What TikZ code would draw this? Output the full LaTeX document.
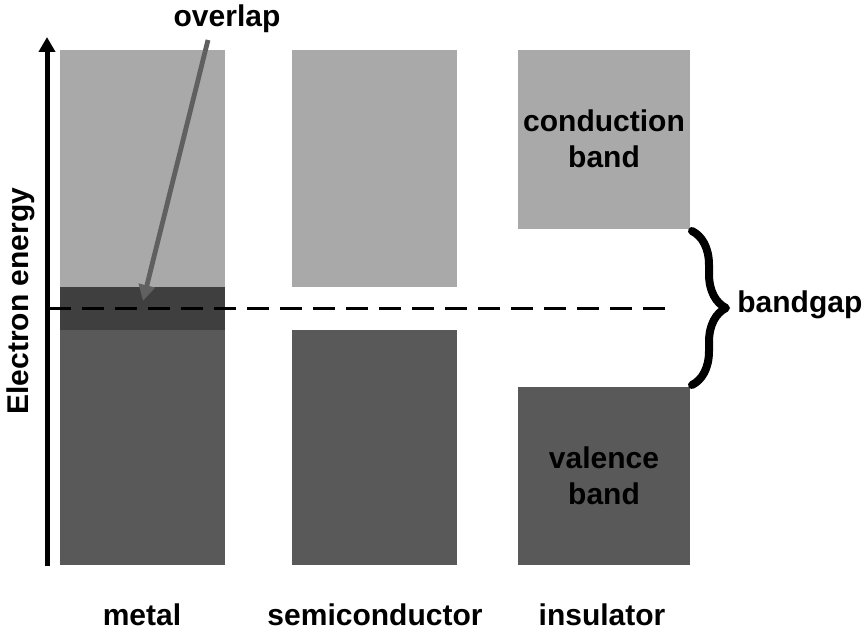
\documentclass[tikz,border=0pt]{standalone}
\usepackage{fontspec}
\setmainfont{Liberation Sans}
\usetikzlibrary{arrows.meta}
\usetikzlibrary{decorations.pathreplacing}
\usetikzlibrary{positioning}
\definecolor{bandlight}{HTML}{A9A9A9}
\definecolor{banddark}{HTML}{595959}
\definecolor{bandover}{HTML}{3F3F3F}
\definecolor{pointer}{HTML}{606060}
\begin{document}
\begin{tikzpicture}
  [
    x=0.5pt,y=-0.5pt,
    cband/.style={fill=bandlight},
    vband/.style={fill=banddark},
    oband/.style={fill=bandover},
    lbl/.style={font=\bfseries\fontsize{15}{18}\selectfont,align=center,inner sep=0pt},
    axis/.style={line width=2.5pt,-{Triangle[length=7.5pt,width=8pt]}},
    pointerarrow/.style={draw=pointer,line width=2.4pt,-{Triangle[length=8pt,width=8pt]}},
    fermi/.style={line width=1.5pt,dash pattern=on 11pt off 5.5pt},
    gapbrace/.style={line width=4pt,line cap=round,line join=round,decorate,decoration={brace,amplitude=17pt}},
  ]
    \useasboundingbox (0,0) rectangle (867,636);
    % metal
    \fill [cband] (60,50) rectangle (225,287);
    \fill [oband] (60,287) rectangle (225,330);
    \fill [vband] (60,330) rectangle (225,565);
    % semiconductor
    \fill [cband] (292,50) rectangle (457,287);
    \fill [vband] (292,330) rectangle (457,565);
    % insulator
    \fill [cband] (518,50) rectangle (690,229);
    \fill [vband] (518,387) rectangle (690,565);
    \coordinate (cbot) at (692,231);
    \coordinate (vtop) at (692,385);
    % energy axis
    \coordinate (axfoot) at (47,566);
    \coordinate (axhead) at (47,37);
    \draw [axis] (axfoot) -- (axhead);
    \node [lbl,rotate=90,anchor=base] (energy) at (28,301) {Electron energy};
    % fermi level
    \coordinate (fstart) at (49,308);
    \coordinate (fend) at (668,308);
    \draw [fermi] (fstart) -- (fend);
    % bandgap
    \draw [gapbrace] (cbot) -- (vtop);
    \node [lbl,anchor=base west] (bandgap) at (737,313) {bandgap};
    % overlap
    \node [lbl,anchor=base] (overlap) at (227,27) {overlap};
    \coordinate (ovfrom) at (208,40);
    \coordinate (ovto) at (143,301);
    \draw [pointerarrow] (ovfrom) -- (ovto);
    % band labels
    \node [lbl] (cbandlbl) at (604,139) {conduction\\band};
    \node [lbl] (vbandlbl) at (604,476) {valence\\band};
    % material labels
    \node [lbl,anchor=base] (metal) at (142,625) {metal};
    \node [lbl,anchor=base] (semi) at (375,625) {semiconductor};
    \node [lbl,anchor=base] (insul) at (602,625) {insulator};
  \end{tikzpicture}
\end{document}
